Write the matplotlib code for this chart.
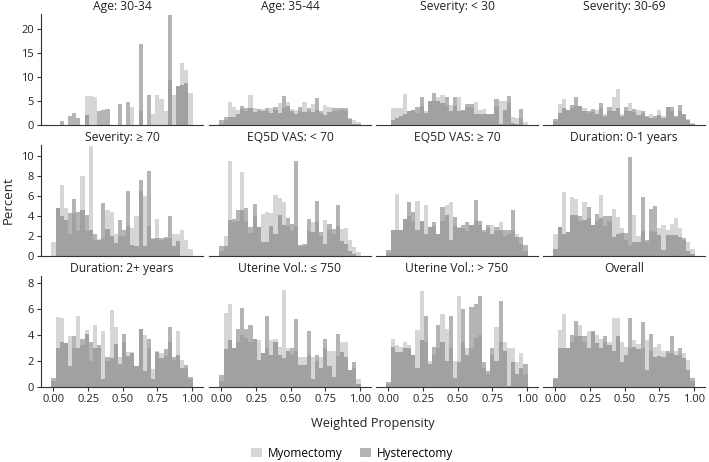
import numpy as np
import matplotlib
matplotlib.use('Agg')
import matplotlib.pyplot as plt
from matplotlib.patches import Patch

plt.rcParams['font.family'] = ['Open Sans', 'DejaVu Sans']

# 34 bins of width 0.03, centred on 0.00, 0.03, ... 0.99
bin_centers = np.round(np.arange(34) * 0.03, 2)
bin_width = 0.03

titles = ['Age: 30-34', 'Age: 35-44', 'Severity: < 30', 'Severity: 30-69',
          'Severity: \u2265 70', 'EQ5D VAS: < 70', 'EQ5D VAS: \u2265 70', 'Duration: 0-1 years',
          'Duration: 2+ years', 'Uterine Vol.: \u2264 750', 'Uterine Vol.: > 750', 'Overall']

myo_age_30_34 = [0, 0, 0, 0, 0, 0, 0, 0, 6.1, 6.0, 5.8, 0, 0, 0, 0, 0, 0, 0, 0, 3.7, 0, 3.0, 0, 0, 2.3, 6.3, 5.4, 3.0, 9.5, 6.3, 8.2, 13.0, 11.6, 6.7]
hys_age_30_34 = [0, 0, 0.85, 0, 1.9, 2.6, 1.5, 0, 2.0, 0, 0, 3.0, 3.2, 3.4, 0, 0, 4.3, 0, 4.9, 0, 0, 17.0, 0, 6.3, 0, 0, 0, 0, 23.0, 0, 8.2, 8.3, 8.7, 0]

myo_age_35_44 = [0.3, 1.0, 4.8, 3.8, 3.2, 3.3, 3.0, 6.3, 3.5, 3.0, 3.4, 3.0, 3.6, 3.2, 4.6, 3.5, 4.9, 3.4, 3.2, 3.0, 4.8, 3.0, 4.4, 3.2, 2.5, 4.2, 3.8, 3.0, 3.0, 3.2, 3.0, 1.5, 1.0, 0.7]
hys_age_35_44 = [1.0, 1.7, 1.7, 1.7, 2.2, 3.9, 3.6, 3.5, 2.7, 3.4, 2.9, 3.5, 2.6, 3.8, 2.5, 6.1, 3.9, 2.9, 2.2, 3.8, 2.7, 3.5, 2.8, 5.6, 2.9, 2.0, 2.7, 3.5, 3.5, 3.5, 3.6, 1.2, 0.3, 0.2]

myo_sev_lt30 = [0, 3.5, 3.5, 3.5, 6.5, 3.0, 3.1, 2.5, 4.0, 2.9, 5.1, 5.1, 5.8, 6.3, 4.0, 4.2, 4.0, 5.8, 2.9, 3.7, 3.7, 4.9, 3.2, 3.3, 2.4, 2.4, 4.0, 5.1, 5.1, 4.5, 1.7, 1.5, 1.5, 0.7]
hys_sev_lt30 = [0, 1.0, 1.5, 1.9, 2.4, 2.9, 3.1, 3.8, 5.9, 2.5, 5.1, 6.7, 5.1, 4.5, 5.9, 2.9, 5.8, 2.9, 3.2, 4.4, 4.4, 2.2, 2.2, 2.4, 2.4, 2.4, 5.4, 0.3, 3.1, 6.1, 0.5, 0.3, 3.3, 0]

myo_sev_30_69 = [0.8, 4.4, 5.4, 3.1, 3.5, 4.0, 4.0, 3.6, 2.5, 2.8, 3.1, 3.5, 2.2, 3.0, 5.9, 7.6, 2.3, 3.0, 4.5, 2.8, 3.1, 2.5, 1.6, 2.4, 1.5, 3.1, 1.9, 3.8, 3.0, 1.6, 3.0, 2.0, 1.2, 0.5]
hys_sev_30_69 = [1.2, 2.6, 3.5, 3.1, 4.2, 5.9, 4.0, 2.9, 2.9, 3.3, 2.2, 4.5, 1.8, 3.8, 2.9, 3.6, 1.9, 3.8, 2.9, 3.3, 2.1, 2.9, 1.9, 1.5, 1.9, 2.0, 1.5, 3.8, 3.8, 1.9, 4.2, 2.4, 1.0, 0.3]

myo_sev_ge70 = [1.4, 4.8, 7.1, 4.8, 2.2, 4.3, 2.5, 8.0, 2.5, 11.0, 1.6, 1.7, 1.8, 4.6, 4.4, 2.2, 2.0, 2.0, 3.0, 2.8, 4.0, 6.5, 6.0, 3.0, 1.8, 3.7, 1.6, 1.7, 1.8, 2.2, 2.2, 2.6, 1.6, 0.7]
hys_sev_ge70 = [0, 4.8, 4.0, 3.6, 4.3, 5.7, 4.4, 4.6, 4.1, 2.6, 2.2, 1.6, 5.3, 2.7, 2.0, 1.3, 3.6, 2.6, 6.5, 1.1, 1.0, 7.6, 1.0, 8.5, 1.7, 1.8, 1.8, 1.9, 4.0, 1.0, 1.5, 0, 0, 0]

myo_vas_lt70 = [0.5, 2.0, 9.5, 3.4, 3.5, 8.4, 3.5, 2.3, 4.0, 2.9, 4.2, 4.4, 4.3, 6.1, 5.8, 5.4, 3.0, 2.5, 3.0, 1.0, 1.0, 2.5, 3.4, 3.5, 2.0, 3.6, 2.6, 2.2, 3.0, 2.7, 2.8, 1.6, 0.9, 0.4]
hys_vas_lt70 = [1.0, 1.0, 3.6, 3.7, 4.6, 4.6, 4.8, 2.9, 5.2, 2.9, 1.4, 1.4, 3.0, 2.2, 4.1, 3.1, 3.8, 3.2, 9.5, 1.1, 1.2, 3.7, 2.4, 5.5, 2.4, 1.2, 3.2, 2.7, 5.1, 1.5, 1.2, 0.5, 0.2, 0]

myo_vas_ge70 = [0.3, 2.6, 6.2, 2.6, 3.7, 4.0, 3.5, 5.5, 3.5, 5.1, 2.9, 3.0, 2.2, 3.5, 5.1, 5.4, 3.0, 2.9, 2.8, 2.5, 3.1, 3.5, 3.1, 2.4, 2.8, 3.1, 2.5, 3.4, 2.0, 2.2, 2.6, 2.2, 1.2, 0.5]
hys_vas_ge70 = [0.6, 2.6, 2.6, 2.6, 3.7, 5.4, 4.4, 2.6, 3.5, 2.2, 2.9, 3.4, 2.2, 4.9, 4.1, 1.6, 3.9, 2.8, 3.1, 3.4, 3.1, 5.6, 3.5, 2.6, 3.1, 2.2, 2.9, 2.6, 2.6, 2.6, 4.6, 1.9, 1.9, 1.1]

myo_dur_0_1 = [2.2, 2.9, 6.4, 2.4, 5.9, 5.7, 3.5, 5.4, 3.8, 3.1, 3.5, 6.1, 3.0, 3.5, 4.7, 3.9, 2.8, 1.6, 1.1, 4.1, 2.0, 2.5, 1.4, 2.5, 2.4, 2.8, 3.1, 2.6, 3.2, 3.8, 2.8, 1.6, 1.4, 0.7]
hys_dur_0_1 = [0.7, 2.9, 2.2, 2.4, 4.1, 4.1, 4.0, 3.6, 4.9, 3.1, 4.2, 3.8, 4.0, 4.0, 1.9, 2.2, 2.3, 2.3, 9.9, 1.4, 1.4, 5.9, 1.6, 4.7, 5.0, 2.1, 0.6, 2.1, 2.1, 2.1, 1.9, 1.8, 0.5, 0.2]

myo_dur_2 = [0.5, 5.4, 5.3, 3.4, 3.9, 3.0, 5.5, 3.2, 4.4, 2.0, 4.8, 3.0, 4.3, 2.0, 5.9, 4.6, 2.3, 3.5, 2.7, 2.7, 1.6, 4.5, 4.0, 3.0, 1.4, 2.8, 2.6, 2.4, 3.5, 2.1, 4.3, 2.1, 1.5, 0.6]
hys_dur_2 = [0.7, 3.0, 3.5, 3.4, 1.6, 3.9, 3.0, 3.7, 4.1, 3.5, 3.0, 3.2, 0.6, 2.3, 2.2, 3.3, 1.8, 4.1, 2.4, 2.6, 1.6, 4.5, 1.2, 3.7, 0.65, 2.7, 2.2, 2.9, 4.6, 2.3, 2.5, 1.5, 1.7, 0.8]

myo_ut_le750 = [0.5, 5.7, 6.4, 3.0, 3.5, 4.0, 3.8, 3.5, 3.7, 3.6, 2.6, 3.0, 3.6, 3.7, 3.1, 7.5, 3.0, 2.5, 2.8, 2.3, 2.3, 2.5, 2.3, 2.0, 2.3, 3.0, 2.8, 2.8, 2.4, 3.5, 3.5, 1.3, 1.5, 0.65]
hys_ut_le750 = [0.9, 2.9, 3.6, 3.0, 4.5, 6.1, 4.5, 4.8, 3.7, 2.1, 2.6, 5.5, 2.5, 3.5, 2.5, 2.2, 2.8, 3.0, 5.2, 1.7, 1.7, 4.3, 0.65, 2.5, 1.5, 3.7, 1.6, 0.8, 4.1, 2.7, 2.3, 1.3, 1.9, 0.2]

myo_ut_gt750 = [0.2, 3.7, 3.2, 3.1, 3.5, 3.2, 2.5, 4.4, 7.4, 3.5, 2.0, 2.5, 3.0, 5.6, 4.5, 3.0, 2.0, 7.0, 3.5, 3.0, 3.0, 3.8, 4.0, 1.5, 1.0, 2.5, 4.6, 3.5, 3.5, 3.0, 3.0, 1.9, 2.6, 1.0]
hys_ut_gt750 = [0.4, 3.1, 2.7, 2.7, 3.0, 3.0, 2.5, 1.5, 3.6, 5.5, 1.8, 3.1, 4.8, 3.5, 2.0, 5.5, 0.7, 1.9, 6.0, 2.5, 6.2, 6.4, 7.0, 1.9, 1.2, 3.0, 2.0, 6.6, 2.8, 0.1, 1.9, 1.0, 1.5, 1.8]

myo_overall = [0.6, 4.4, 5.6, 3.0, 3.5, 3.9, 4.8, 3.5, 4.3, 4.2, 4.0, 3.7, 3.5, 3.5, 5.3, 5.3, 3.5, 3.1, 3.0, 3.6, 3.3, 3.0, 3.6, 2.8, 3.1, 3.3, 2.8, 2.6, 2.6, 2.8, 2.5, 2.6, 2.1, 0.5]
hys_overall = [0.72, 3.0, 3.0, 3.0, 4.0, 5.1, 3.9, 3.9, 3.0, 4.3, 3.4, 3.0, 3.9, 3.2, 2.8, 3.9, 1.9, 2.5, 5.3, 3.1, 2.9, 5.0, 1.3, 4.1, 2.3, 2.4, 2.3, 2.8, 3.9, 2.5, 3.0, 2.2, 1.3, 0.7]

myo_series = [myo_age_30_34, myo_age_35_44, myo_sev_lt30, myo_sev_30_69,
              myo_sev_ge70, myo_vas_lt70, myo_vas_ge70, myo_dur_0_1,
              myo_dur_2, myo_ut_le750, myo_ut_gt750, myo_overall]
hys_series = [hys_age_30_34, hys_age_35_44, hys_sev_lt30, hys_sev_30_69,
              hys_sev_ge70, hys_vas_lt70, hys_vas_ge70, hys_dur_0_1,
              hys_dur_2, hys_ut_le750, hys_ut_gt750, hys_overall]

row_ymax = [23.2, 11.1, 8.55]
row_yticks = [[0, 5, 10, 15, 20], [0, 2, 4, 6, 8, 10], [0, 2, 4, 6, 8]]
x_ticks = [0, 0.25, 0.5, 0.75, 1.0]

myo_color = '#b6b6b6'
hys_color = '#797979'
bar_alpha = 0.56
axis_color = '#333333'

W, H = 709, 462
fig = plt.figure(figsize=(W / 100, H / 100), dpi=100)

col_left = [41, 209, 376, 543]
col_width = 162
row_top = [14, 145, 276]
row_height = 111

for i in range(12):
    r, c = divmod(i, 4)
    ax = fig.add_axes([col_left[c] / W, 1 - (row_top[r] + row_height) / H,
                       col_width / W, row_height / H])
    ax.bar(bin_centers, myo_series[i], width=bin_width, color=myo_color,
           alpha=bar_alpha, linewidth=0)
    ax.bar(bin_centers, hys_series[i], width=bin_width, color=hys_color,
           alpha=bar_alpha, linewidth=0)
    ax.set_xlim(-0.09, 1.08)
    ax.set_ylim(0, row_ymax[r])
    ax.set_title(titles[i], fontsize=8.7, color='#222222', pad=3)
    for s in ['top', 'right']:
        ax.spines[s].set_visible(False)
    ax.spines['bottom'].set_color(axis_color)
    ax.spines['left'].set_color(axis_color)
    ax.tick_params(colors=axis_color, labelcolor='#222222', labelsize=8, length=3, width=0.8, pad=2)
    ax.set_xticks(x_ticks)
    if r == 2:
        ax.set_xticklabels(['%.2f' % t for t in x_ticks])
    else:
        ax.tick_params(axis='x', bottom=False, labelbottom=False)
    ax.set_yticks(row_yticks[r])
    if c != 0:
        ax.spines['left'].set_visible(False)
        ax.tick_params(axis='y', left=False, labelleft=False)

fig.text(373 / W, 1 - 423 / H, 'Weighted Propensity', ha='center', va='center',
         fontsize=9.2, color='#222222')
fig.text(8 / W, 1 - 200 / H, 'Percent', ha='center', va='center', rotation=90,
         fontsize=9.5, color='#222222')

handles = [Patch(facecolor=myo_color, alpha=bar_alpha, label='Myomectomy'),
           Patch(facecolor=hys_color, alpha=bar_alpha, label='Hysterectomy')]
fig.legend(handles=handles, loc='center', bbox_to_anchor=(352 / W, 1 - 453 / H),
           ncol=2, frameon=False, fontsize=8.5, handlelength=0.9, handleheight=0.9,
           columnspacing=1.5, handletextpad=0.5)

fig.savefig('out.png', dpi=100)
